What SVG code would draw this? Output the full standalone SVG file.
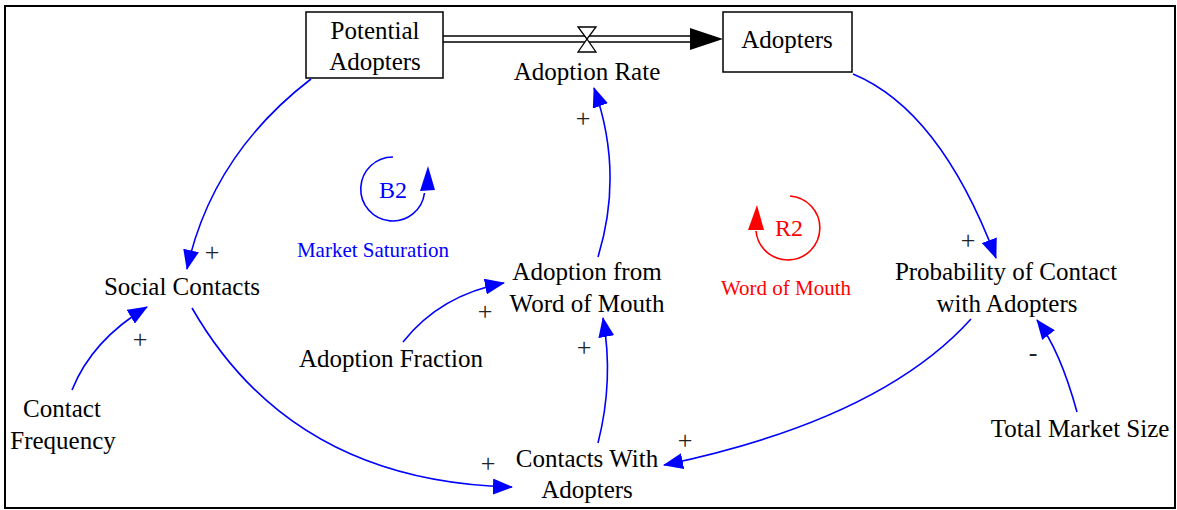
<svg xmlns="http://www.w3.org/2000/svg" width="1177" height="510" viewBox="0 0 1177 510">
<defs>
<style>
.t{font-family:"Liberation Serif","Times New Roman",serif;font-size:25px;fill:#000;text-anchor:middle}
.p{font-family:"Liberation Serif","Times New Roman",serif;font-size:26px;fill:#222;text-anchor:middle}
.lnk{fill:none;stroke:#0000FF;stroke-width:1.6;marker-end:url(#ah)}
.box{fill:#fff;stroke:#000;stroke-width:1.5}
</style>
<marker id="ah" viewBox="0 0 20 16" markerUnits="userSpaceOnUse" markerWidth="20" markerHeight="16" refX="19" refY="8" orient="auto">
<path d="M0,0 L20,8 L0,16 z" fill="#0000FF"/>
</marker>
</defs>
<rect width="1177" height="510" fill="#fff"/>
<rect x="5" y="6" width="1170" height="502" fill="none" stroke="#000" stroke-width="2"/>

<g id="flow">
<line x1="443" y1="36" x2="692" y2="36" stroke="#000" stroke-width="1.5"/>
<line x1="443" y1="42" x2="692" y2="42" stroke="#000" stroke-width="1.5"/>
<path d="M690,28 L723,39 L690,50 z" fill="#000"/>
<path d="M578,27 L596,27 L587,39 L596,52 L578,52 L587,39 z" fill="#fff" stroke="#000" stroke-width="1.3"/>
</g>

<g id="potential-adopters">
<rect class="box" x="306" y="12" width="137" height="66"/>
<text class="t" x="375" y="39">Potential</text>
<text class="t" x="375" y="70">Adopters</text>
</g>
<g id="adopters">
<rect class="box" x="723" y="12" width="129" height="60"/>
<text class="t" x="787" y="48">Adopters</text>
</g>
<g id="adoption-rate"><text class="t" x="587" y="80">Adoption Rate</text></g>
<g id="social-contacts"><text class="t" x="182" y="295">Social Contacts</text></g>
<g id="contact-frequency">
<text class="t" x="62" y="417">Contact</text>
<text class="t" x="63" y="449">Frequency</text>
</g>
<g id="adoption-fraction"><text class="t" x="391" y="367">Adoption Fraction</text></g>
<g id="adoption-wom">
<text class="t" x="587" y="280">Adoption from</text>
<text class="t" x="587" y="312">Word of Mouth</text>
</g>
<g id="contacts-with-adopters">
<text class="t" x="587" y="467">Contacts With</text>
<text class="t" x="587" y="498">Adopters</text>
</g>
<g id="probability">
<text class="t" x="1006" y="280">Probability of Contact</text>
<text class="t" x="1007" y="312">with Adopters</text>
</g>
<g id="total-market-size"><text class="t" x="1080" y="437">Total Market Size</text></g>

<g id="loop-b2">
<path d="M393,157 A32,32 0 1,0 424.5,193" fill="none" stroke="#0000FF" stroke-width="1.6"/>
<path d="M420,191 L435,190 L428,166 z" fill="#0000FF"/>
<text x="393" y="198" font-family="Liberation Serif, serif" font-size="24" fill="#0000FF" text-anchor="middle">B2</text>
<text x="373" y="257" font-family="Liberation Serif, serif" font-size="21" fill="#0000FF" text-anchor="middle">Market Saturation</text>
</g>
<g id="loop-r2">
<path d="M790,196 A32,32 0 1,1 756,231" fill="none" stroke="#FF0000" stroke-width="1.6"/>
<path d="M748,230 L764,230 L757,205 z" fill="#FF0000"/>
<text x="789" y="236" font-family="Liberation Serif, serif" font-size="24" fill="#FF0000" text-anchor="middle">R2</text>
<text x="786" y="295" font-family="Liberation Serif, serif" font-size="21" fill="#FF0000" text-anchor="middle">Word of Mouth</text>
</g>

<g id="connectors">
<path class="lnk" d="M311,79 Q212,155 187,269"/>
<path class="lnk" d="M72,390 Q92,340 147,307"/>
<path class="lnk" d="M192,308 Q292,482 512,487"/>
<path class="lnk" d="M403,342 Q440,295 504,283"/>
<path class="lnk" d="M598,443 Q614,380 603,318"/>
<path class="lnk" d="M598,257 Q624,172 594,88"/>
<path class="lnk" d="M853,74 Q940,110 996,258"/>
<path class="lnk" d="M971,319 Q880,420 664,465"/>
<path class="lnk" d="M1077,412 Q1060,350 1037,320"/>
<text class="p" x="212" y="261">+</text>
<text class="p" x="140" y="348">+</text>
<text class="p" x="488" y="472">+</text>
<text class="p" x="485" y="320">+</text>
<text class="p" x="584" y="356">+</text>
<text class="p" x="583" y="127">+</text>
<text class="p" x="968" y="249">+</text>
<text class="p" x="685" y="449">+</text>
<text class="p" x="1033" y="361" font-size="28">-</text>
</g>
</svg>
